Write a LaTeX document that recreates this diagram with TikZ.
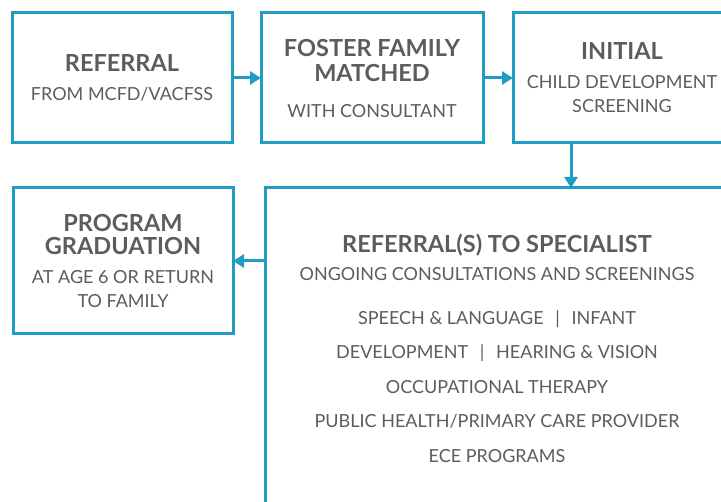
\documentclass[tikz,border=0pt]{standalone}
\usepackage{fontspec}
\setmainfont{Lato}
\usetikzlibrary{arrows.meta}
\definecolor{flowblue}{RGB}{33,156,196}
\definecolor{boxgray}{RGB}{92,92,92}
\newcommand\hd[1]{{\bfseries\fontsize{23.5}{25}\selectfont #1}}
\newcommand\sep{\hspace{0.65em}|\hspace{0.65em}}
\begin{document}
\begin{tikzpicture}[x=1pt, y=-1pt, line width=3pt,
  stagebox/.style={draw=flowblue, inner sep=0pt, outer sep=0pt, align=center, text=boxgray, font=\fontsize{18}{24}\selectfont},
  flow/.style={draw=flowblue, -{Triangle[length=11pt,width=13pt]}}]
\useasboundingbox (0,0) rectangle (721,502);
\clip (0,0) rectangle (721,502);
\begin{scope}[every node/.style={stagebox, anchor=north west}]
\node[minimum width=220pt, minimum height=130pt] (referral) at (12,13) {\hd{REFERRAL}\\[5pt] FROM MCFD/VACFSS};
\node[minimum width=222pt, minimum height=130pt] (matched) at (261,13) {\hd{FOSTER FAMILY}\\[1pt] \hd{MATCHED}\\[12pt] WITH CONSULTANT};
\node[minimum width=218pt, minimum height=130pt] (initial) at (513,13) {\hd{INITIAL}\\[5pt] CHILD DEVELOPMENT\\ SCREENING};
\node[minimum width=220pt, minimum height=146pt] (graduation) at (13,188) {\hd{PROGRAM}\\[-1pt] \hd{GRADUATION}\\[5pt] AT AGE 6 OR RETURN\\ TO FAMILY};
\node[minimum width=464pt, minimum height=320pt] (specialist) at (265,188) {\hd{REFERRAL(S) TO SPECIALIST}\\[4pt]
  ONGOING CONSULTATIONS AND SCREENINGS\\[20pt]
  SPEECH \& LANGUAGE\sep INFANT\\[10.5pt]
  DEVELOPMENT\sep HEARING \& VISION\\[10.5pt]
  OCCUPATIONAL THERAPY\\[10.5pt]
  PUBLIC HEALTH/PRIMARY CARE PROVIDER\\[10.5pt]
  ECE PROGRAMS};
\end{scope}
\coordinate (drop) at (571,0);
\begin{scope}
\draw[flow] (referral) -- (matched);
\draw[flow] (matched) -- (initial.west |- matched);
\draw[flow] (initial.south -| drop) -- (specialist.north -| drop);
\draw[flow] (specialist.west |- graduation) -- (graduation.east);
\end{scope}
\end{tikzpicture}
\end{document}
